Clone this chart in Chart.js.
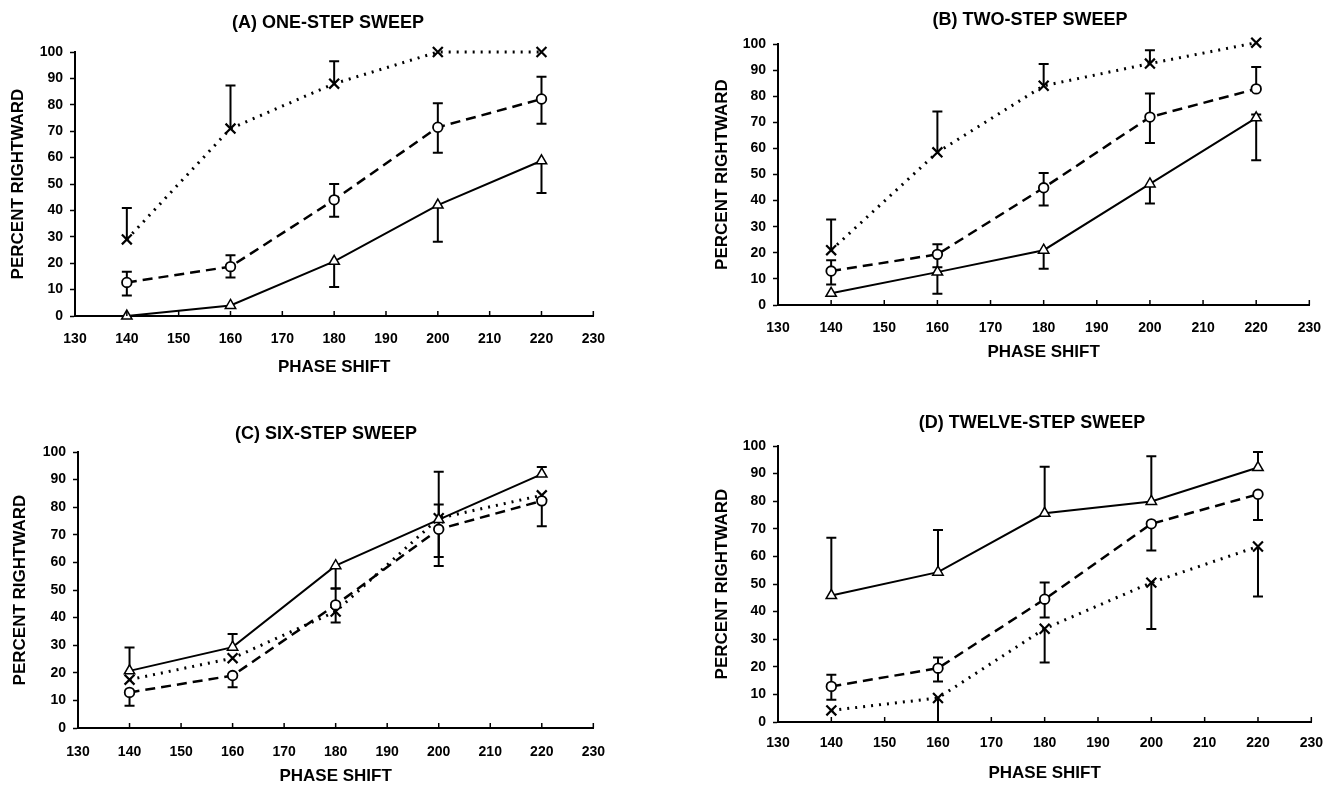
<!DOCTYPE html>
<html>
<head>
<meta charset="utf-8">
<script src="https://cdn.jsdelivr.net/npm/chart.js@4"></script>
<style>
  body { margin: 0; background: #fff; }
  #wrap { position: relative; width: 1336px; height: 785px; overflow: hidden; background: #fff; }
  canvas { position: absolute; }
</style>
</head>
<body>
<div id="wrap">
  <canvas id="chartA" width="620" height="385" style="left:0px;top:0px"></canvas>
  <canvas id="chartB" width="633" height="385" style="left:703px;top:0px"></canvas>
  <canvas id="chartC" width="618" height="385" style="left:3px;top:400px"></canvas>
  <canvas id="chartD" width="633" height="385" style="left:703px;top:400px"></canvas>
</div>
<script>
// phase shift values (x) shared by all panels
const phaseShift = [140, 160, 180, 200, 220];
const panelTitles = ["(A) ONE-STEP SWEEP", "(B) TWO-STEP SWEEP", "(C) SIX-STEP SWEEP", "(D) TWELVE-STEP SWEEP"];

// (A) one-step
const triA = [0, 4, 20.7, 42, 58.8];
const triA_lo = [null, null, 11, 28.1, 46.6];
const circA = [12.7, 18.7, 44, 71.5, 82.2];
const circA_lo = [7.8, 14.6, 37.6, 61.8, 72.8];
const circA_hi = [16.8, 23, 50, 80.6, 90.6];
const crossA = [29, 71, 88, 100, 100];
const crossA_hi = [40.9, 87.3, 96.5, null, null];

// (B) two-step
const triB = [4.5, 12.6, 21, 46.4, 71.7];
const triB_lo = [null, 4.3, 13.9, 38.9, 55.5];
const triB_hi = [null, null, null, null, 73];
const circB = [13, 19.4, 44.9, 72, 82.8];
const circB_lo = [7.9, 14.5, 38.1, 62.1, null];
const circB_hi = [17.1, 23.3, 50.6, 81, 91.2];
const crossB = [21, 58.5, 84, 92.5, 100.5];
const crossB_hi = [32.8, 74.1, 92.3, 97.6, null];

// (C) six-step
const triC = [20.7, 29.3, 58.8, 75.5, 92];
const triC_lo = [null, null, 50.5, null, null];
const triC_hi = [29.2, 34.1, null, 92.8, 94.6];
const circC = [12.9, 19, 44.6, 72, 82.3];
const circC_lo = [8.1, 14.8, 38.2, 62, 73.1];
const circC_hi = [null, null, 50.5, 81, null];
const crossC = [17.5, 25.3, 42.2, 76, 84.3];
const crossC_lo = [null, null, null, 58.7, null];

// (D) twelve-step
const triD = [45.8, 54.3, 75.6, 79.9, 92.2];
const triD_hi = [66.8, 69.6, 92.5, 96.3, 97.8];
const circD = [12.9, 19.5, 44.5, 71.8, 82.5];
const circD_lo = [8.1, 14.7, 37.9, 62.1, 73.2];
const circD_hi = [17.1, 23.4, 50.5, null, null];
const crossD = [4.2, 8.7, 33.8, 50.5, 63.6];
const crossD_lo = [null, 0, 21.6, 33.7, 45.5];

Chart.defaults.font.family = "'Liberation Sans', Arial, sans-serif";
Chart.defaults.font.weight = "bold";
Chart.defaults.color = "#000";

// vertical error bars with caps, drawn under the markers
const errorBars = {
    id: "errorBars",
    beforeDatasetsDraw(chart) {
        const ctx = chart.ctx;
        const x = chart.scales.x, y = chart.scales.y;
        ctx.save();
        ctx.strokeStyle = "#000";
        ctx.lineWidth = 2;
        ctx.setLineDash([]);
        chart.data.datasets.forEach(function (ds) {
            ds.data.forEach(function (pt, i) {
                [ds.errLow, ds.errHigh].forEach(function (arr) {
                    if (!arr || arr[i] == null) return;
                    const px = x.getPixelForValue(pt.x);
                    const py0 = y.getPixelForValue(pt.y);
                    const py1 = y.getPixelForValue(arr[i]);
                    ctx.beginPath();
                    ctx.moveTo(px, py0);
                    ctx.lineTo(px, py1);
                    ctx.moveTo(px - 5, py1);
                    ctx.lineTo(px + 5, py1);
                    ctx.stroke();
                });
            });
        });
        ctx.restore();
    }
};

// small x tick marks pointing up into the plot, plus the panel title
const extras = {
    id: "extras",
    afterDraw(chart, args, opts) {
        const ctx = chart.ctx;
        const x = chart.scales.x;
        const bottom = chart.chartArea.bottom;
        ctx.save();
        ctx.strokeStyle = "#000";
        ctx.lineWidth = 1.5;
        x.ticks.forEach(function (t) {
            const px = x.getPixelForValue(t.value);
            ctx.beginPath();
            ctx.moveTo(px, bottom);
            ctx.lineTo(px, bottom - 5);
            ctx.stroke();
        });
        ctx.fillStyle = "#000";
        ctx.font = "bold 18px 'Liberation Sans', Arial, sans-serif";
        ctx.textAlign = "center";
        ctx.textBaseline = "middle";
        ctx.fillText(opts.text, opts.x, opts.y);
        ctx.restore();
    }
};

function points(values) {
    return values.map(function (v, i) { return { x: phaseShift[i], y: v }; });
}

function makeChart(id, title, tri, cross, circ, lay) {
    const ctx = document.getElementById(id).getContext("2d");
    return new Chart(ctx, {
        type: "line",
        data: {
            datasets: [
                {
                    data: points(tri.values), errLow: tri.lo, errHigh: tri.hi,
                    borderColor: "#000", borderWidth: 2, clip: false,
                    pointStyle: "triangle", pointRadius: 6,
                    pointBackgroundColor: "#fff", pointBorderColor: "#000", pointBorderWidth: 1.5
                },
                {
                    data: points(circ.values), errLow: circ.lo, errHigh: circ.hi,
                    borderColor: "#000", borderWidth: 2.5, borderDash: [10, 6], clip: false,
                    pointStyle: "circle", pointRadius: 4.8,
                    pointBackgroundColor: "#fff", pointBorderColor: "#000", pointBorderWidth: 1.8
                },
                {
                    data: points(cross.values), errLow: cross.lo, errHigh: cross.hi,
                    borderColor: "#000", borderWidth: 3, borderDash: [2, 6], clip: false,
                    pointStyle: "crossRot", pointRadius: 7,
                    pointBackgroundColor: "#fff", pointBorderColor: "#000", pointBorderWidth: 2.2
                }
            ]
        },
        options: {
            responsive: false,
            animation: false,
            layout: { padding: { left: 0, right: lay.padRight, top: lay.top, bottom: 0 } },
            plugins: {
                legend: { display: false },
                tooltip: { enabled: false },
                title: { display: false },
                extras: { text: title, x: lay.titleX, y: lay.titleY }
            },
            scales: {
                x: {
                    type: "linear", min: 130, max: 230,
                    ticks: { stepSize: 10, padding: lay.xTickPad, font: { size: 14, weight: "bold" }, color: "#000" },
                    grid: { display: false, drawTicks: false },
                    border: { display: true, color: "#000", width: 2 },
                    title: {
                        display: true, text: "PHASE SHIFT", color: "#000",
                        font: { size: 17, weight: "bold", lineHeight: 1 },
                        padding: { top: 0, bottom: lay.xTitlePad }
                    },
                    afterFit: function (s) { s.height = lay.xHeight; }
                },
                y: {
                    min: 0, max: 100,
                    ticks: { stepSize: 10, padding: 7, font: { size: 14, weight: "bold" }, color: "#000" },
                    grid: { drawOnChartArea: false, color: "#000", tickLength: 5, tickWidth: 1.5 },
                    border: { display: true, color: "#000", width: 2 },
                    title: {
                        display: true, text: "PERCENT RIGHTWARD", color: "#000",
                        font: { size: 17, weight: "bold", lineHeight: 1 },
                        padding: { top: lay.yTitlePad, bottom: 0 }
                    },
                    afterFit: function (s) { s.width = 75; }
                }
            }
        },
        plugins: [errorBars, extras]
    });
}

makeChart("chartA", panelTitles[0],
    { values: triA, lo: triA_lo, hi: null },
    { values: crossA, lo: null, hi: crossA_hi },
    { values: circA, lo: circA_lo, hi: circA_hi },
    { padRight: 16, top: 52, titleX: 328, titleY: 23, xTickPad: 15, xTitlePad: 9.5, xHeight: 69, yTitlePad: 9.5 });

makeChart("chartB", panelTitles[1],
    { values: triB, lo: triB_lo, hi: triB_hi },
    { values: crossB, lo: null, hi: crossB_hi },
    { values: circB, lo: circB_lo, hi: circB_hi },
    { padRight: 14, top: 44, titleX: 327, titleY: 20, xTickPad: 15, xTitlePad: 24.5, xHeight: 80, yTitlePad: 10.5 });

makeChart("chartC", panelTitles[2],
    { values: triC, lo: triC_lo, hi: triC_hi },
    { values: crossC, lo: crossC_lo, hi: null },
    { values: circC, lo: circC_lo, hi: circC_hi },
    { padRight: 16, top: 52, titleX: 323, titleY: 34, xTickPad: 16, xTitlePad: 0, xHeight: 57, yTitlePad: 8.5 });

makeChart("chartD", panelTitles[3],
    { values: triD, lo: null, hi: triD_hi },
    { values: crossD, lo: crossD_lo, hi: null },
    { values: circD, lo: circD_lo, hi: circD_hi },
    { padRight: 16, top: 46, titleX: 329, titleY: 23, xTickPad: 13, xTitlePad: 3.5, xHeight: 63, yTitlePad: 10.5 });
</script>
</body>
</html>
